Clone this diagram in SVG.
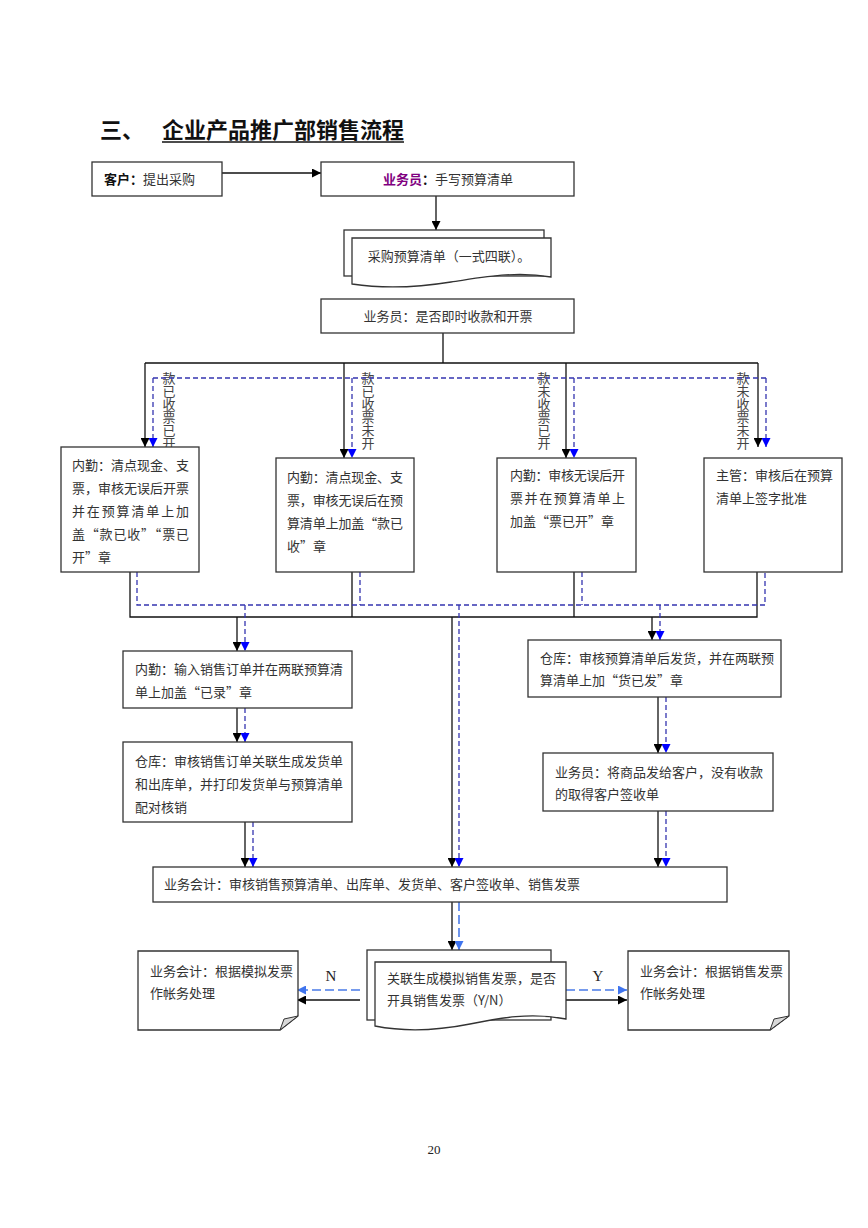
<svg xmlns="http://www.w3.org/2000/svg" width="868" height="1228" viewBox="0 0 868 1228">
<style>
.bx{fill:#fff;stroke:#333;stroke-width:1.3}
.t{font-family:"Noto Sans CJK SC","Liberation Serif",serif;font-size:13px;fill:#333}
.vl{font-family:"Noto Sans CJK SC",serif;font-size:13px;fill:#444;writing-mode:vertical-rl;text-orientation:upright}
.lat{font-family:"Liberation Serif","Noto Sans CJK SC",serif;fill:#222}
.s{fill:none;stroke:#111;stroke-width:1.3}
.d{fill:none;stroke:#3535b0;stroke-width:1.3;stroke-dasharray:5 3}
.d2{fill:none;stroke:#4a7be8;stroke-width:1.6;stroke-dasharray:9 4}
</style>
<defs>
<marker id="ak" viewBox="0 0 10 10" refX="10" refY="5" markerWidth="9" markerHeight="9" markerUnits="userSpaceOnUse" orient="auto"><path d="M0,0 L10,5 L0,10 Z" fill="#000"/></marker>
<marker id="ab" viewBox="0 0 10 10" refX="10" refY="5" markerWidth="9" markerHeight="9" markerUnits="userSpaceOnUse" orient="auto"><path d="M0,0 L10,5 L0,10 Z" fill="#0000ff"/></marker>
<marker id="ab2" viewBox="0 0 10 10" refX="10" refY="5" markerWidth="9" markerHeight="9" markerUnits="userSpaceOnUse" orient="auto"><path d="M0,0 L10,5 L0,10 Z" fill="#3f74ee"/></marker>
</defs>
<rect width="868" height="1228" fill="#fff"/>

<g id="title">
<text x="100" y="138" font-family="Noto Sans CJK SC,serif" font-size="22" font-weight="bold" fill="#111">三、</text>
<text x="162" y="138" font-family="Noto Sans CJK SC,serif" font-size="22" font-weight="bold" fill="#111">企业产品推广部销售流程</text>
<line x1="162" y1="142" x2="404" y2="142" stroke="#111" stroke-width="1.5"/>
</g>

<g id="labels">
<text class="vl" x="169" y="372">款已收票已开</text>
<text class="vl" x="368" y="372">款已收票未开</text>
<text class="vl" x="544" y="372">款未收票已开</text>
<text class="vl" x="743" y="372">款未收票未开</text>
<text class="lat" x="331" y="981" font-size="15" text-anchor="middle">N</text>
<text class="lat" x="598" y="981" font-size="15" text-anchor="middle">Y</text>
<text class="lat" x="434" y="1154" font-size="13" text-anchor="middle">20</text>
</g>

<g id="connectors">
<path class="s" d="M222,173 H321" marker-end="url(#ak)"/>
<path class="s" d="M436,196 V230" marker-end="url(#ak)"/>
<path class="s" d="M443,333 V363 M145,363 H758"/>
<path class="s" d="M145,363 V447" marker-end="url(#ak)"/>
<path class="s" d="M344,363 V458" marker-end="url(#ak)"/>
<path class="s" d="M566,363 V458" marker-end="url(#ak)"/>
<path class="s" d="M758,363 V447" marker-end="url(#ak)"/>
<path class="d" d="M153,378 H766"/>
<path class="d" d="M153,378 V447" marker-end="url(#ab)"/>
<path class="d" d="M352,378 V458" marker-end="url(#ab)"/>
<path class="d" d="M574,378 V458" marker-end="url(#ab)"/>
<path class="d" d="M766,378 V447" marker-end="url(#ab)"/>

<path class="s" d="M130,572 V617 H757 V572 M352,572 V617 M574,572 V617"/>
<path class="d" d="M137,572 V605 H765 V572 M360,572 V605 M582,572 V605"/>
<path class="s" d="M237,617 V651" marker-end="url(#ak)"/>
<path class="s" d="M452,617 V867" marker-end="url(#ak)"/>
<path class="s" d="M652,617 V640" marker-end="url(#ak)"/>
<path class="d" d="M245,605 V651" marker-end="url(#ab)"/>
<path class="d" d="M459,605 V867" marker-end="url(#ab)"/>
<path class="d" d="M660,605 V640" marker-end="url(#ab)"/>

<path class="s" d="M237,708 V742" marker-end="url(#ak)"/>
<path class="d" d="M245,708 V742" marker-end="url(#ab)"/>
<path class="s" d="M245,822 V867" marker-end="url(#ak)"/>
<path class="d" d="M253,822 V867" marker-end="url(#ab)"/>
<path class="s" d="M658,697 V753" marker-end="url(#ak)"/>
<path class="d" d="M666,697 V753" marker-end="url(#ab)"/>
<path class="s" d="M658,811 V867" marker-end="url(#ak)"/>
<path class="d" d="M666,811 V867" marker-end="url(#ab)"/>

<path class="s" d="M452,902 V950" marker-end="url(#ak)"/>
<path class="d2" d="M459,902 V950" marker-end="url(#ab2)"/>
<path class="s" d="M360,1000 H297" marker-end="url(#ak)"/>
<path class="d2" d="M360,990 H297" marker-end="url(#ab2)"/>
<path class="s" d="M566,1000 H627" marker-end="url(#ak)"/>
<path class="d2" d="M566,990 H627" marker-end="url(#ab2)"/>
</g>

<g id="n-customer">
<rect class="bx" x="92" y="162" width="130" height="34"/>
<text class="t" x="104" y="184"><tspan font-weight="bold" fill="#111">客户：</tspan>提出采购</text>
</g>
<g id="n-sales1">
<rect class="bx" x="321" y="162" width="253" height="34"/>
<text class="t" x="383" y="184"><tspan font-weight="bold" fill="#800080">业务员</tspan><tspan font-weight="bold" fill="#111">：</tspan>手写预算清单</text>
</g>
<g id="n-budgetdoc">
<rect class="bx" x="344" y="230" width="200" height="46"/>
<path class="bx" d="M352,238 H551 V277 C515,271 485,277 451,282 C420,287 385,289 352,284 Z"/>
<text class="t" x="449" y="261" text-anchor="middle">采购预算清单（一式四联）。</text>
</g>
<g id="n-decide">
<rect class="bx" x="321" y="299" width="253" height="34"/>
<text class="t" x="448" y="321" text-anchor="middle">业务员：是否即时收款和开票</text>
</g>

<g id="n-b1">
<rect class="bx" x="61" y="447" width="138" height="125"/>
<text class="t" x="72" y="470" textLength="117" lengthAdjust="spacing">内勤：清点现金、支</text>
<text class="t" x="72" y="493" textLength="117" lengthAdjust="spacing">票，审核无误后开票</text>
<text class="t" x="72" y="516" textLength="117" lengthAdjust="spacing">并在预算清单上加</text>
<text class="t" x="72" y="539" textLength="117" lengthAdjust="spacing">盖“款已收”“票已</text>
<text class="t" x="72" y="562">开”章</text>
</g>
<g id="n-b2">
<rect class="bx" x="276" y="458" width="138" height="114"/>
<text class="t" x="287" y="482" textLength="116" lengthAdjust="spacing">内勤：清点现金、支</text>
<text class="t" x="287" y="505" textLength="116" lengthAdjust="spacing">票，审核无误后在预</text>
<text class="t" x="287" y="528" textLength="116" lengthAdjust="spacing">算清单上加盖“款已</text>
<text class="t" x="287" y="551">收”章</text>
</g>
<g id="n-b3">
<rect class="bx" x="497" y="458" width="139" height="114"/>
<text class="t" x="510" y="480" textLength="115" lengthAdjust="spacing">内勤：审核无误后开</text>
<text class="t" x="510" y="503" textLength="115" lengthAdjust="spacing">票并在预算清单上</text>
<text class="t" x="510" y="526">加盖“票已开”章</text>
</g>
<g id="n-b4">
<rect class="bx" x="704" y="458" width="138" height="114"/>
<text class="t" x="716" y="480">主管：审核后在预算</text>
<text class="t" x="716" y="503">清单上签字批准</text>
</g>

<g id="n-entry">
<rect class="bx" x="123" y="651" width="229" height="57"/>
<text class="t" x="135" y="674">内勤：输入销售订单并在两联预算清</text>
<text class="t" x="135" y="697">单上加盖“已录”章</text>
</g>
<g id="n-wh1">
<rect class="bx" x="123" y="742" width="229" height="80"/>
<text class="t" x="135" y="766">仓库：审核销售订单关联生成发货单</text>
<text class="t" x="135" y="789">和出库单，并打印发货单与预算清单</text>
<text class="t" x="135" y="812">配对核销</text>
</g>
<g id="n-wh2">
<rect class="bx" x="528" y="640" width="253" height="57"/>
<text class="t" x="540" y="663">仓库：审核预算清单后发货，并在两联预</text>
<text class="t" x="540" y="685">算清单上加“货已发”章</text>
</g>
<g id="n-sales2">
<rect class="bx" x="543" y="753" width="230" height="58"/>
<text class="t" x="555" y="777">业务员：将商品发给客户，没有收款</text>
<text class="t" x="555" y="799">的取得客户签收单</text>
</g>
<g id="n-acct">
<rect class="bx" x="153" y="867" width="574" height="35"/>
<text class="t" x="164" y="889">业务会计：审核销售预算清单、出库单、发货单、客户签收单、销售发票</text>
</g>
<g id="n-invdoc">
<rect class="bx" x="367" y="950" width="184" height="70"/>
<path class="bx" d="M375,962 H566 V1019 C530,1012 500,1018 470,1024 C440,1030 405,1032 375,1026 Z"/>
<text class="t" x="387" y="983">关联生成模拟销售发票，是否</text>
<text class="t" x="387" y="1005">开具销售发票（Y/N）</text>
</g>
<g id="n-acctN">
<path class="bx" d="M138,951 H298 V1016 L280,1030 H138 Z"/>
<path d="M280,1030 L284,1019 L298,1016 Z" fill="#d8d8d8" stroke="#333" stroke-width="1"/>
<text class="t" x="150" y="976">业务会计：根据模拟发票</text>
<text class="t" x="150" y="998">作帐务处理</text>
</g>
<g id="n-acctY">
<path class="bx" d="M628,951 H789 V1016 L770,1030 H628 Z"/>
<path d="M770,1030 L774,1019 L789,1016 Z" fill="#d8d8d8" stroke="#333" stroke-width="1"/>
<text class="t" x="640" y="976">业务会计：根据销售发票</text>
<text class="t" x="640" y="998">作帐务处理</text>
</g>
</svg>
